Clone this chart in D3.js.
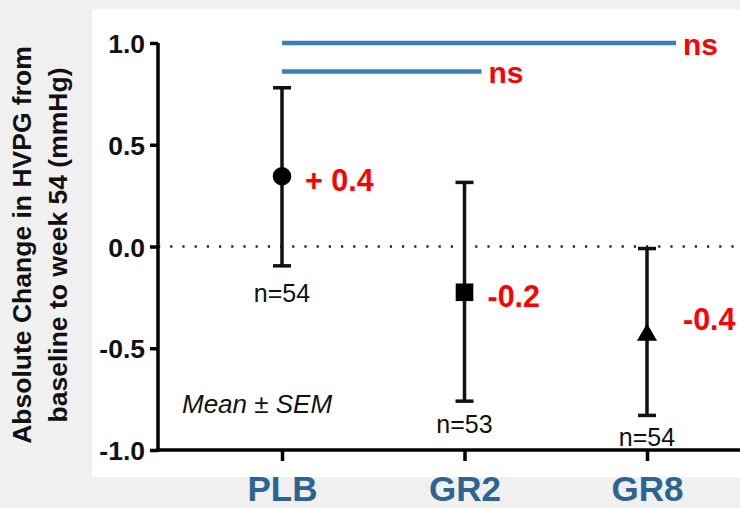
<!DOCTYPE html>
<html><head><meta charset="utf-8">
<script src="https://cdn.jsdelivr.net/npm/d3@7"></script>
<style>body{margin:0;background:#f0f0f0}svg{display:block}</style>
</head><body>
<svg id="c" width="740" height="508"></svg>
<script>
const categories = ["PLB","GR2","GR8"];
const means = [0.345, -0.225, -0.435];
const upper = [0.78, 0.315, -0.01];
const lower = [-0.095, -0.76, -0.83];
const ns = ["n=54","n=53","n=54"];
const valueLabels = ["+ 0.4","-0.2","-0.4"];
const yTicks = [1.0, 0.5, 0.0, -0.5, -1.0];
const comparisons = [{from:"PLB", to:"GR8", y:1.0, label:"ns"},{from:"PLB", to:"GR2", y:0.86, label:"ns"}];

const FF = "Liberation Sans, Arial, sans-serif";
const svg = d3.select("#c");
svg.append("rect").attr("x",92).attr("y",9).attr("width",648).attr("height",468).attr("fill","#fff");

const y = d3.scaleLinear().domain([-1,1]).range([450,43]);
const x = d3.scalePoint().domain(categories).range([282,647]);

// zero dotted line
svg.append("line").attr("x1",158).attr("x2",740).attr("y1",y(0)).attr("y2",y(0))
  .attr("stroke","#222").attr("stroke-width",2.4).attr("stroke-dasharray","2.2 10");

// y axis
const ya = svg.append("g").attr("transform","translate(158,0)")
  .call(d3.axisLeft(y).tickValues(yTicks).tickFormat(d3.format(".1f")).tickSize(8).tickSizeOuter(0));
ya.select(".domain").attr("stroke","#000").attr("stroke-width",3.5).attr("d","M0,"+y(1)+"V"+(y(-1)+1.75));
ya.selectAll(".tick line").attr("stroke","#000").attr("stroke-width",3.5);
ya.selectAll(".tick text").attr("font-family",FF).attr("font-weight","bold")
  .attr("font-size",26.5).attr("fill","#111").attr("x",-13).attr("dy","0.36em")
  .text(d=>d.toFixed(1).replace("-0.0","0.0"));

// x axis
const xa = svg.append("g").attr("transform","translate(0,450)")
  .call(d3.axisBottom(x).tickSize(11).tickSizeOuter(0));
xa.select(".domain").attr("stroke","#000").attr("stroke-width",3.5).attr("d","M156.25,0H740");
xa.selectAll(".tick line").attr("stroke","#000").attr("stroke-width",3.5);
xa.selectAll(".tick text").attr("font-family",FF).attr("font-weight","bold")
  .attr("font-size",35).attr("fill","#2d6491").attr("y",51).attr("dy","0");

// error bars
const g = svg.append("g");
categories.forEach((c,i)=>{
  const cx = x(c);
  g.append("line").attr("x1",cx).attr("x2",cx).attr("y1",y(upper[i])).attr("y2",y(lower[i]))
    .attr("stroke","#111").attr("stroke-width",3.5);
  [upper[i],lower[i]].forEach(v=>{
    g.append("line").attr("x1",cx-9).attr("x2",cx+9).attr("y1",y(v)).attr("y2",y(v))
      .attr("stroke","#111").attr("stroke-width",3.5);
  });
});
// markers
const sym = [d3.symbolCircle, d3.symbolSquare, d3.symbolTriangle];
const sz = [270, 310, 175];
categories.forEach((c,i)=>{
  g.append("path").attr("d",d3.symbol().type(sym[i]).size(sz[i])())
    .attr("transform",`translate(${x(c)},${y(means[i])})`).attr("fill","#000");
});
// value labels
const vOff = [[23,4],[23,4],[36,-16]];
categories.forEach((c,i)=>{
  svg.append("text").attr("x",x(c)+vOff[i][0]).attr("y",y(means[i])+vOff[i][1]).attr("dy","0.36em")
    .attr("font-family",FF).attr("font-weight","bold").attr("font-size",30.5)
    .attr("fill","#ff0000").text(valueLabels[i]);
});
// n labels
const nY = [293, 424, 437];
categories.forEach((c,i)=>{
  svg.append("text").attr("x",x(c)).attr("y",nY[i]).attr("dy","0.36em").attr("text-anchor","middle")
    .attr("font-family",FF).attr("font-size",25).attr("fill","#111").text(ns[i]);
});
// comparisons
comparisons.forEach(cmp=>{
  const ext = cmp.to==="GR8" ? 29 : 17;
  svg.append("line").attr("x1",x(cmp.from)).attr("x2",x(cmp.to)+ext).attr("y1",y(cmp.y)).attr("y2",y(cmp.y))
    .attr("stroke","#3a7dbb").attr("stroke-width",4.5);
  svg.append("text").attr("x",x(cmp.to)+ext+7).attr("y",y(cmp.y)+1).attr("dy","0.36em")
    .attr("font-family",FF).attr("font-weight","bold").attr("font-size",30)
    .attr("fill","#ff0000").text(cmp.label);
});
// Mean ± SEM
svg.append("text").attr("x",182).attr("y",404).attr("dy","0.36em")
  .attr("font-family",FF).attr("font-style","italic").attr("font-size",26)
  .attr("fill","#111").text("Mean ± SEM");
// y title
const yt = svg.append("text").attr("transform","translate(0,245) rotate(-90)")
  .attr("font-family",FF).attr("font-weight","bold").attr("font-size",26.5)
  .attr("fill","#111").attr("text-anchor","middle");
yt.append("tspan").attr("x",0).attr("y",31).text("Absolute Change in HVPG from");
yt.append("tspan").attr("x",0).attr("y",67).text("baseline to week 54 (mmHg)");
</script>
</body></html>
